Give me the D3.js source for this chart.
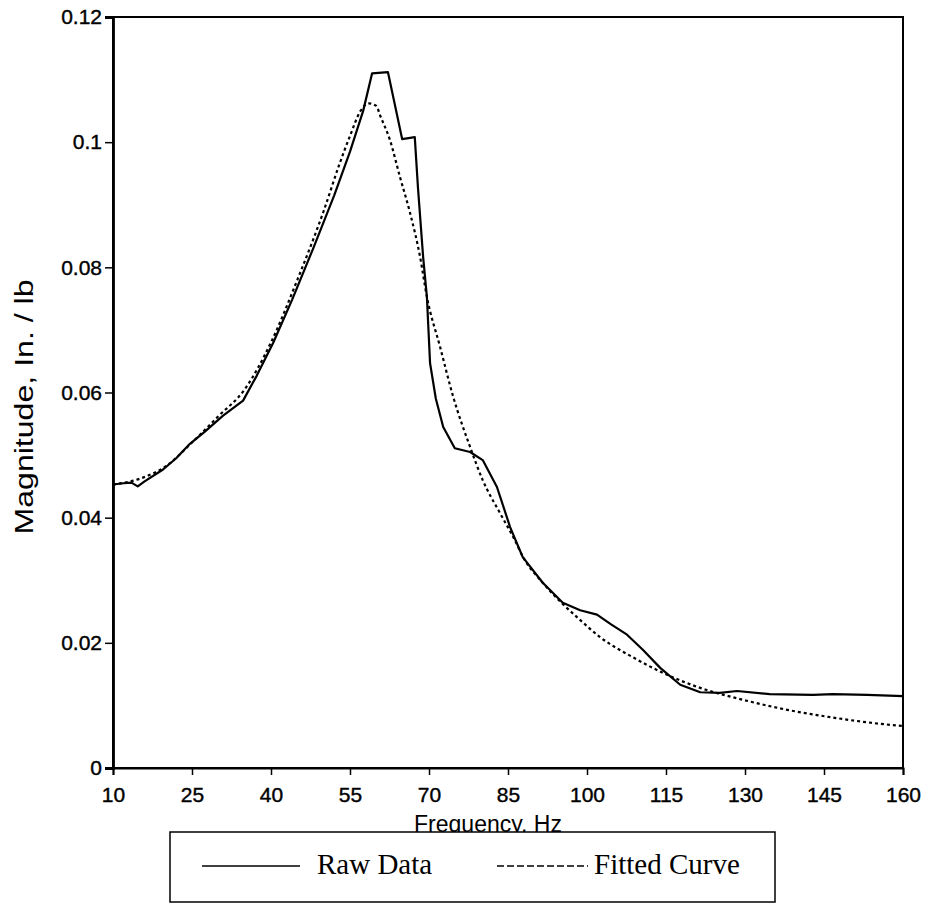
<!DOCTYPE html>
<html>
<head>
<meta charset="utf-8">
<script src="https://cdn.jsdelivr.net/npm/d3@7"></script>
<style>
  html, body { margin: 0; padding: 0; background: #fff; }
  svg { display: block; }
</style>
</head>
<body>
<svg id="chart" width="930" height="904"></svg>
<script>
// ---- data ----
const xTicks = [10, 25, 40, 55, 70, 85, 100, 115, 130, 145, 160];
const yTicks = [0, 0.02, 0.04, 0.06, 0.08, 0.1, 0.12];
const yTickLabels = ["0", "0.02", "0.04", "0.06", "0.08", "0.1", "0.12"];
const seriesNames = ["Raw Data", "Fitted Curve"];

const rawFreq = [10, 12, 13.5, 14.7, 16, 19.5, 22, 24.6, 27.5, 30.9, 34.7, 37.3, 40.4, 44, 48, 52, 55, 57.5, 59.2, 62.2, 64.9, 67.3, 67.9, 68.9, 69.6, 70.2, 71.3, 72.7, 74.9, 77.8, 80.2, 82.9, 85.4, 87.8, 91.6, 95.4, 98.7, 101.9, 104.5, 107.6, 110.6, 113.9, 117.7, 121.5, 125.2, 128.5, 134.7, 142.9, 146.7, 153.2, 160];
const rawMag  = [0.0453, 0.0455, 0.0456, 0.0450, 0.0458, 0.0477, 0.0495, 0.0518, 0.0538, 0.0563, 0.0587, 0.0627, 0.0679, 0.0748, 0.0830, 0.0915, 0.0985, 0.1050, 0.1110, 0.1112, 0.1005, 0.1008, 0.0928, 0.0815, 0.0753, 0.0647, 0.0590, 0.0545, 0.0511, 0.0505, 0.0492, 0.0449, 0.0385, 0.0337, 0.0296, 0.0264, 0.0252, 0.0245, 0.0230, 0.0213, 0.0189, 0.0160, 0.0133, 0.0121, 0.0120, 0.0123, 0.0118, 0.0117, 0.0118, 0.0117, 0.0115];

const fitFreq = [10, 15, 20, 25, 30, 35, 40, 45, 50, 53, 55, 57, 58.5, 60, 60.7, 62.6, 64.5, 66.4, 68.3, 69.6, 72.1, 74.6, 77.8, 80.2, 83.5, 86, 88, 91.6, 95.4, 98.5, 102.5, 108.7, 115.2, 121.5, 129.6, 138, 145.6, 153.2, 160];
const fitMag  = [0.0453, 0.0462, 0.0482, 0.0520, 0.0562, 0.0605, 0.0680, 0.0780, 0.0890, 0.0965, 0.1010, 0.1050, 0.1062, 0.1058, 0.1043, 0.1003, 0.0944, 0.0887, 0.0817, 0.0753, 0.0673, 0.0593, 0.0513, 0.0460, 0.0407, 0.0369, 0.0335, 0.0296, 0.0262, 0.0238, 0.0209, 0.0177, 0.0149, 0.0128, 0.0109, 0.0093, 0.0082, 0.0073, 0.0067];

// ---- layout ----
const svg = d3.select("#chart");
const pLeft = 113, pRight = 903, pTop = 17, pBottom = 768;
const x = d3.scaleLinear().domain([10, 160]).range([pLeft, pRight]);
const y = d3.scaleLinear().domain([0, 0.12]).range([pBottom, pTop]);

const font = "'Liberation Sans', Arial, Helvetica, sans-serif";
const serif = "'Liberation Serif', 'Times New Roman', serif";

// frame
svg.append("rect")
  .attr("x", pLeft).attr("y", pTop)
  .attr("width", pRight - pLeft).attr("height", pBottom - pTop)
  .attr("fill", "none").attr("stroke", "#000").attr("stroke-width", 2);

// x axis
const xAxis = d3.axisBottom(x).tickValues(xTicks).tickSize(7).tickPadding(12)
  .tickFormat(d3.format("d"));
const gx = svg.append("g").attr("transform", `translate(0,${pBottom})`).call(xAxis);
gx.select(".domain").attr("stroke-width", 2);
gx.selectAll(".tick line").attr("stroke-width", 1.5);
gx.selectAll(".tick text").attr("font-family", font).attr("font-size", 21)
  .attr("fill", "#000").attr("stroke", "#000").attr("stroke-width", 0.4);

// y axis
const yAxis = d3.axisLeft(y).tickValues(yTicks).tickSize(8).tickPadding(3)
  .tickFormat((d, i) => yTickLabels[i]);
const gy = svg.append("g").attr("transform", `translate(${pLeft},0)`).call(yAxis);
gy.select(".domain").attr("stroke-width", 2.8);
gy.selectAll(".tick line").attr("stroke-width", 1.5);
gy.selectAll(".tick text").attr("font-family", font).attr("font-size", 21)
  .attr("fill", "#000").attr("stroke", "#000").attr("stroke-width", 0.4);

// axis titles
svg.append("text")
  .attr("x", 488).attr("y", 832)
  .attr("text-anchor", "middle")
  .attr("font-family", font).attr("font-size", 23)
  .text("Frequency, Hz");

svg.append("text")
  .attr("transform", "translate(33,407) rotate(-90)")
  .attr("text-anchor", "middle")
  .attr("font-family", font).attr("font-size", 25)
  .attr("textLength", 255).attr("lengthAdjust", "spacingAndGlyphs")
  .text("Magnitude, In. / lb");

// lines
const rawData = rawFreq.map((f, i) => [f, rawMag[i]]);
const fitData = fitFreq.map((f, i) => [f, fitMag[i]]);

const lineRaw = d3.line().x(d => x(d[0])).y(d => y(d[1])).curve(d3.curveLinear);
const lineFit = d3.line().x(d => x(d[0])).y(d => y(d[1])).curve(d3.curveMonotoneX);

svg.append("path").datum(fitData)
  .attr("d", lineFit)
  .attr("fill", "none").attr("stroke", "#000")
  .attr("stroke-width", 2.2).attr("stroke-dasharray", "3,3");

svg.append("path").datum(rawData)
  .attr("d", lineRaw)
  .attr("fill", "none").attr("stroke", "#000")
  .attr("stroke-width", 2.2).attr("stroke-linejoin", "round");

// legend
const lg = svg.append("g");
lg.append("rect")
  .attr("x", 170).attr("y", 832).attr("width", 605).attr("height", 70)
  .attr("fill", "#fff").attr("stroke", "#000").attr("stroke-width", 1.5);
lg.append("line")
  .attr("x1", 202).attr("x2", 300).attr("y1", 866).attr("y2", 866)
  .attr("stroke", "#000").attr("stroke-width", 1.5);
lg.append("text")
  .attr("x", 317).attr("y", 874)
  .attr("font-family", serif).attr("font-size", 29)
  .text(seriesNames[0]);
lg.append("line")
  .attr("x1", 497).attr("x2", 588).attr("y1", 866).attr("y2", 866)
  .attr("stroke", "#000").attr("stroke-width", 1.5).attr("stroke-dasharray", "7,3");
lg.append("text")
  .attr("x", 594).attr("y", 874)
  .attr("font-family", serif).attr("font-size", 29)
  .text(seriesNames[1]);
</script>
</body>
</html>
